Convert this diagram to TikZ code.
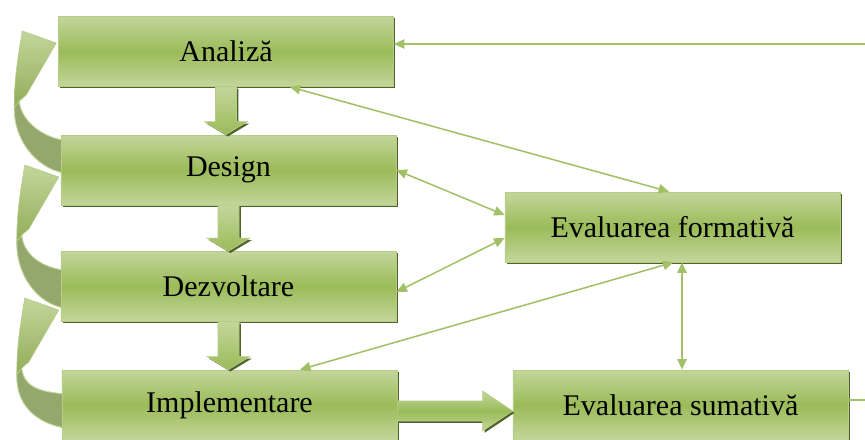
\documentclass[tikz,border=0pt]{standalone}
\usepackage{fontspec}
\setmainfont{Liberation Serif}
\usetikzlibrary{arrows.meta,calc,shadows}

\definecolor{gl}{HTML}{C3D69B}
\definecolor{gm}{HTML}{9BBB59}
\definecolor{gedge}{HTML}{B5CD86}
\definecolor{gshd}{HTML}{4F6228}
\definecolor{gband}{HTML}{94A76C}
\definecolor{gline}{HTML}{A2C065}

\tikzset{
  shd/.style={drop shadow={fill=gshd, opacity=1, shadow xshift=1.6pt, shadow yshift=-1.6pt}},
  stageshape/.style={rectangle, minimum width=10.05cm, minimum height=2.1cm, inner sep=0pt},
  stagebox/.style={stageshape, draw=gedge, line width=0.6pt,
    top color=gl, bottom color=gl, middle color=gm,
    font=\fontsize{25.6}{30}\selectfont, shd},
  link/.style={draw=gline, line width=1.3pt, {Triangle[length=9pt,width=8pt]}-{Triangle[length=9pt,width=8pt]}},
  linkin/.style={draw=gline, line width=1.3pt, -{Triangle[length=9pt,width=8pt]}},
  plainlink/.style={draw=gline, line width=1.3pt},
  blockdn/.style={draw=gedge, line width=0.5pt, top color=gl, bottom color=gm, shd},
  blockrt/.style={draw=gedge, line width=0.5pt, top color=gl, bottom color=gl, middle color=gm, shd},
  bandback/.style={fill=gband, draw=gl, line width=0.8pt},
  bandhead/.style={draw=gedge, line width=0.5pt, top color=gl, bottom color=gm!90!black!95},
}

% downward block arrow between two stacked stages
\newcommand\blockdown[2]{%
  \coordinate (bt) at (#1.south |- #2.north);
  \path[blockdn] ($(#1.south)+(-10.5,0)$) -- ($(bt)+(-10.5,-13)$) -- ($(bt)+(-21.5,-13)$)
    -- (bt) -- ($(bt)+(21.5,-13)$) -- ($(bt)+(10.5,-13)$) -- ($(#1.south)+(10.5,0)$) -- cycle;
}

% curved return arrow from a lower stage back to the stage above it
\newcommand\loopback[5]{%
  \coordinate (T) at ($(#1.west)+(-2,#3)$);
  \coordinate (O) at ($(T)+(-34,-12)$);
  \coordinate (I) at ($(T)+(-30,52)$);
  \coordinate (J) at ($(T)+(-37,58)$);
  \coordinate (K) at ($(T)+(-42,64)$);
  \coordinate (L1) at ($(#2.west)+(3,#4)$);
  \coordinate (L2) at ($(#2.west)+(3,#5)$);
  \path[bandback] (J) .. controls ($(J)+(2,22)$) and ($(L1)+(-18,-2)$) .. (L1) -- (L2)
    .. controls ($(L2)+(-28,-5)$) and ($(K)+(-1,32)$) .. (K) -- cycle;
  \path[bandhead] (O) -- (T) -- (I) -- (J) -- (K)
    .. controls ($(K)+(0,-30)$) and ($(O)+(-4,25)$) .. (O) -- cycle;
}

\begin{document}
\begin{tikzpicture}[x=0.03cm, y=-0.03cm]
  \useasboundingbox (0,0) rectangle (865,439);

  \path
    (226,51.5)    coordinate (pAn)
    (228.5,170)   coordinate (pDe)
    (228.5,286.5) coordinate (pDz)
    (229.5,405)   coordinate (pIm)
    (672.5,227)   coordinate (pFo)
    (680.5,405)   coordinate (pSu);

  % outlines of the stages, so the return arrows can be drawn beneath them
  \node[stageshape] (an) at (pAn) {};
  \node[stageshape] (de) at (pDe) {};
  \node[stageshape] (dz) at (pDz) {};
  \node[stageshape] (im) at (pIm) {};

  \loopback{an}{de}{-8.5}{-30}{3}
  \loopback{de}{dz}{7}{-16.5}{21.5}
  \loopback{dz}{im}{23.5}{-11}{23}

  \node[stagebox] (an) at (pAn) {Analiză};
  \node[stagebox] (de) at (pDe) {Design};
  \node[stagebox] (dz) at (pDz) {Dezvoltare};
  \node[stagebox] (im) at (pIm) {Implementare};
  \node[stagebox] (fo) at (pFo) {Evaluarea formativă};
  \node[stagebox] (su) at (pSu) {Evaluarea sumativă};

  % flow between stages
  \blockdown{an}{de}
  \blockdown{de}{dz}
  \blockdown{dz}{im}
  \path[blockrt] ($(im.east)+(0,-4)$) -- ($(su.west)+(-30,-4)$) -- ($(su.west)+(-30,-14)$)
    -- ($(su.west)+(0,6)$) -- ($(su.west)+(-30,26)$) -- ($(su.west)+(-30,16)$)
    -- ($(im.east)+(0,16)$) -- cycle;

  % feedback from the summative evaluation around to the analysis
  \coordinate (fbin) at (870,44);
  \draw[linkin] (fbin) -- (fbin -| an.east);
  \coordinate (fbout) at (870,400);
  \draw[plainlink] (su.east |- fbout) -- (fbout);

  % formative evaluation links
  \draw[link] ($(an.south west)!0.69!(an.south east)$) -- ($(fo.north west)!0.49!(fo.north east)$);
  \draw[link] (de.east) -- ($(fo.west)+(0,-12)$);
  \draw[link] ($(dz.east)+(0,5.5)$) -- ($(fo.west)+(0,11)$);
  \draw[link] ($(im.north west)!0.71!(im.north east)$) -- ($(fo.south)+(1,0)$);
  \coordinate (vf) at ($(fo.south)+(9.5,0)$);
  \draw[link] (vf) -- (vf |- su.north);
\end{tikzpicture}
\end{document}
